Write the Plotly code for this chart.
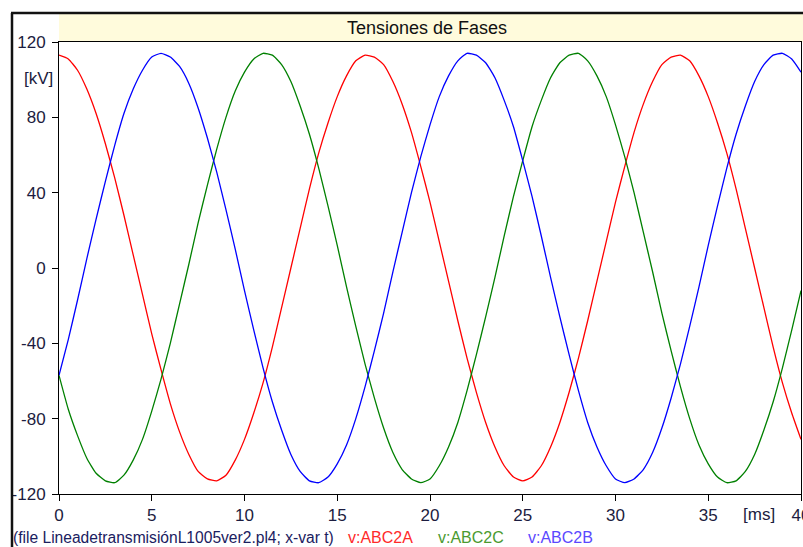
import plotly.graph_objects as go

# ---- data (time in ms, every 0.5 ms; voltage in kV) ----
t_ms = [i * 0.5 for i in range(81)]
v_abc2a = [113, 111, 105, 95, 82, 66, 48, 28, 7, -14, -35, -54, -72, -87, -99, -108,
           -112, -113, -110, -102, -91, -77, -61, -42, -21, 0, 21, 42, 61, 77, 91, 102,
           110, 113, 112, 108, 99, 87, 72, 54, 35, 14, -7, -28, -48, -66, -82, -95,
           -105, -111, -113, -111, -105, -95, -82, -66, -48, -28, -7, 14, 35, 54, 72, 87,
           99, 108, 112, 113, 110, 102, 91, 77, 61, 42, 21, 0, -21, -42, -61, -77, -91]
v_abc2c = [-57, -75, -89, -101, -109, -113, -114, -110, -102, -91, -76, -59, -40, -19, 2, 24,
           44, 63, 80, 94, 104, 111, 114, 113, 108, 99, 86, 71, 53, 33, 12, -10,
           -31, -51, -69, -85, -98, -107, -112, -114, -112, -105, -95, -82, -65, -46, -26, -5,
           17, 38, 57, 75, 89, 101, 109, 113, 114, 110, 102, 91, 76, 59, 40, 19,
           -2, -24, -44, -63, -80, -94, -104, -111, -114, -113, -108, -99, -86, -71, -53, -33, -12]
v_abc2b = [-57, -38, -17, 5, 26, 46, 65, 82, 95, 105, 112, 114, 112, 107, 98, 85,
           69, 51, 31, 10, -12, -33, -53, -71, -86, -99, -108, -113, -114, -111, -104, -94,
           -80, -63, -44, -24, -2, 19, 40, 59, 76, 91, 102, 110, 114, 113, 109, 101,
           89, 75, 57, 38, 17, -5, -26, -46, -65, -82, -95, -105, -112, -114, -112, -107,
           -98, -85, -69, -51, -31, -10, 12, 33, 53, 71, 86, 99, 108, 113, 114, 111, 104]
series_names = ["v:ABC2A", "v:ABC2C", "v:ABC2B"]
x_ticks = [0, 5, 10, 15, 20, 25, 30, 35, 40]
y_ticks = [-120, -80, -40, 0, 40, 80, 120]
title_text = "Tensiones de Fases"
file_text = "(file LineadetransmisiónL1005ver2.pl4; x-var t)"
y_unit = "[kV]"
x_unit = "[ms]"

# ---- layout geometry ----
W, H = 803, 547
ML, MR, MT, MB = 59, 2, 42, 53
PW = W - ML - MR
PH = H - MT - MB


def px(x):
    return (x - ML) / PW


def py(y):
    return (H - MB - y) / PH


FONT = "Liberation Sans, Arial, sans-serif"
TXT = "#1c1c40"
line_colors = ["#ff0000", "#008000", "#0000ff"]
label_colors = ["#ff2a2a", "#4a9a30", "#5a48ff"]

fig = go.Figure()
for name, ys, col in zip(series_names, [v_abc2a, v_abc2c, v_abc2b], line_colors):
    fig.add_trace(go.Scatter(x=t_ms, y=ys, mode="lines", name=name,
                             line=dict(color=col, width=1.3, shape="spline", smoothing=0.5),
                             hoverinfo="skip"))

shapes = [
    # title band
    dict(type="rect", xref="paper", yref="paper", x0=px(59), x1=px(806), y0=py(42), y1=py(14),
         fillcolor="#fffbdc", line=dict(width=0), layer="below"),
    # outer frame (left and top)
    dict(type="line", xref="paper", yref="paper", x0=px(12), x1=px(12), y0=py(13), y1=py(548),
         line=dict(color="#111111", width=2.5)),
    dict(type="line", xref="paper", yref="paper", x0=px(11), x1=px(806), y0=py(13), y1=py(13),
         line=dict(color="#111111", width=2.5)),
]

annotations = [
    dict(text=title_text, xref="paper", yref="paper", x=px(427), y=py(28), showarrow=False,
         xanchor="center", yanchor="middle", font=dict(family=FONT, size=18, color="#111111")),
    dict(text=y_unit, xref="paper", yref="paper", x=px(55), y=py(78), showarrow=False,
         xanchor="right", yanchor="middle", font=dict(family=FONT, size=17, color=TXT)),
    dict(text=x_unit, xref="paper", yref="paper", x=px(759), y=py(514), showarrow=False,
         xanchor="center", yanchor="middle", font=dict(family=FONT, size=17, color=TXT)),
    dict(text=file_text, xref="paper", yref="paper", x=px(11), y=py(537), showarrow=False,
         xanchor="left", yanchor="middle", font=dict(family=FONT, size=15.6, color="#1a2060")),
]
for name, xpos, col in zip(series_names, [346, 436, 526], label_colors):
    annotations.append(dict(text=name, xref="paper", yref="paper", x=px(xpos), y=py(537),
                            showarrow=False, xanchor="left", yanchor="middle",
                            font=dict(family=FONT, size=16, color=col)))

axis_common = dict(showgrid=False, zeroline=False, showline=True, linecolor="#000000",
                   linewidth=1, mirror=True, ticks="outside", ticklen=6, tickcolor="#000000",
                   automargin=False, ticklabeloverflow="allow",
                   tickfont=dict(family=FONT, size=17, color=TXT))

fig.update_layout(
    width=W, height=H,
    margin=dict(l=ML, r=MR, t=MT, b=MB, pad=0, autoexpand=False),
    paper_bgcolor="white", plot_bgcolor="white",
    showlegend=False,
    shapes=shapes,
    annotations=annotations,
    font=dict(family=FONT, size=16, color=TXT),
    xaxis=dict(range=[0, 40], tickmode="array", tickvals=x_ticks,
               ticktext=[str(v) for v in x_ticks], **axis_common),
    yaxis=dict(range=[-120, 120], tickmode="array", tickvals=y_ticks,
               ticktext=[str(v) for v in y_ticks], ticklabelstandoff=3, **axis_common),
)

fig.write_html("out.html")
